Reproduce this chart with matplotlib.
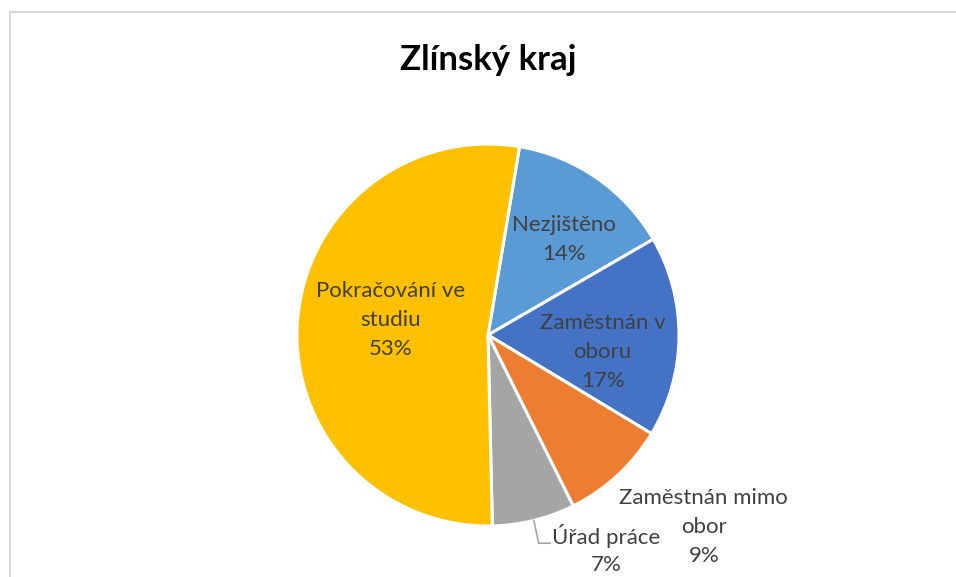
import numpy as np
import matplotlib.pyplot as plt
from matplotlib.patches import Rectangle

plt.rcParams['font.family'] = ['Lato', 'DejaVu Sans']

title = 'Zlínský kraj'
categories = ['Nezjištěno', 'Zaměstnán v\noboru', 'Zaměstnán mimo\nobor', 'Úřad práce', 'Pokračování ve\nstudiu']
shares = [14, 17, 9, 7, 53]
colors = ['#5B9BD5', '#4472C4', '#ED7D31', '#A5A5A5', '#FFC000']

fig = plt.figure(figsize=(9.56, 5.77), dpi=100)
fig.patch.set_facecolor('white')

# chart area frame (only top/left visible in crop)
fig.add_artist(Rectangle((10 / 956, -0.2), 1.2, 1.2 - 12 / 577,
                         transform=fig.transFigure, fill=False,
                         edgecolor='#D9D9D9', linewidth=1.5))

R = 191  # pie radius in px
ax = fig.add_axes([297 / 956, 51 / 577, 2 * R / 956, 2 * R / 577])
wedges, _ = ax.pie(shares, colors=colors, startangle=80.5, counterclock=False,
                   wedgeprops=dict(edgecolor='white', linewidth=2.2))
ax.set_xlim(-1, 1)
ax.set_ylim(-1, 1)
ax.set_aspect('equal')

# label centres (data units, pie radius = 1); each line drawn on its own
label_pos = [(0.40, 0.50), (0.60, -0.09), (1.13, -1.005), (0.62, -1.13), (-0.51, 0.08)]
step = 29 / R
for cat, val, (x, y) in zip(categories, shares, label_pos):
    lines = f'{cat}\n{val}%'.split('\n')
    top = y + step * (len(lines) - 1) / 2
    for i, line in enumerate(lines):
        ax.text(x, top - i * step, line, ha='center', va='center', fontsize=16,
                color='#404040', clip_on=False)

# leader line for the small slice
w = wedges[3]
mid = np.deg2rad((w.theta1 + w.theta2) / 2)
x0, y0 = np.cos(mid), np.sin(mid)
ax.plot([x0, x0 + 0.025, x0 + 0.085], [y0, -1.09, -1.09], color='#A6A6A6',
        linewidth=1.2, clip_on=False)

fig.text(488 / 956, 1 - 60 / 577, title, ha='center', va='center',
         fontsize=25, fontweight='bold', color='black')

fig.savefig('out.png', dpi=100)
